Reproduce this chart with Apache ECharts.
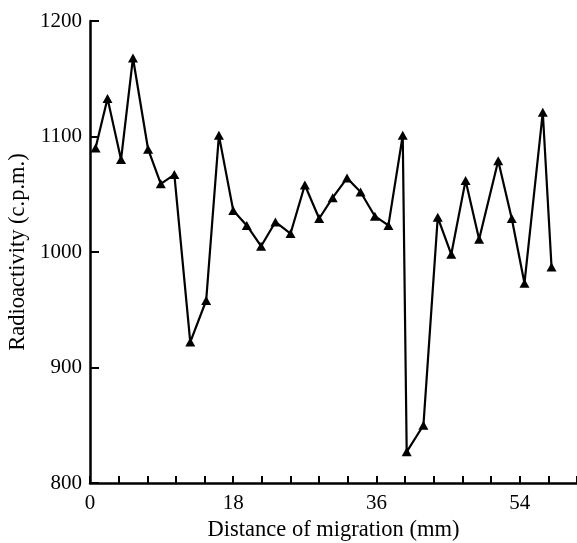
<!DOCTYPE html>
<html>
<head>
<meta charset="utf-8">
<script src="https://cdn.jsdelivr.net/npm/echarts@6/dist/echarts.min.js"></script>
<style>
  html, body { margin: 0; padding: 0; background: #fff; }
  #chart { width: 577px; height: 543px; }
</style>
</head>
<body>
<div id="chart"></div>
<script>
// Distance of migration (mm) for each fraction
const distance = [0.7, 2.2, 3.9, 5.4, 7.3, 8.9, 10.6, 12.6, 14.6, 16.2,
                  18.0, 19.7, 21.5, 23.3, 25.2, 27.0, 28.8, 30.5, 32.3, 34.0,
                  35.8, 37.5, 39.3, 39.8, 41.9, 43.7, 45.4, 47.2, 48.9, 51.3,
                  53.0, 54.6, 56.9, 58.0];
// Radioactivity (c.p.m.) for each fraction
const radioactivity = [1090, 1133, 1080, 1168, 1089, 1059, 1067, 922, 958, 1101,
                       1036, 1023, 1005, 1026, 1016, 1058, 1029, 1047, 1064, 1052,
                       1031, 1023, 1101, 827, 850, 1030, 998, 1062, 1011, 1079,
                       1029, 973, 1121, 987];
// Tick labels drawn on the distance axis
const xTickLabels = [0, 18, 36, 54];

const points = distance.map((d, i) => [d, radioactivity[i]]);
const FONT = '"Liberation Serif", "DejaVu Serif", serif';

const chart = echarts.init(document.getElementById('chart'), null, { renderer: 'canvas' });
chart.setOption({
  animation: false,
  backgroundColor: '#fff',
  grid: { left: 90, right: 0, top: 21, bottom: 60, outerBoundsMode: 'none', containLabel: false },
  xAxis: {
    type: 'value',
    min: 0,
    max: 61.2,
    interval: 3.6,
    name: 'Distance of migration (mm)',
    nameLocation: 'middle',
    nameGap: 32,
    nameTextStyle: { fontFamily: FONT, fontSize: 22.5, color: '#000' },
    axisLine: { show: true, onZero: false, lineStyle: { color: '#000', width: 2.5 } },
    axisTick: { show: true, inside: true, length: 7, lineStyle: { color: '#000', width: 2 } },
    axisLabel: {
      color: '#000', fontFamily: FONT, fontSize: 21, margin: 10,
      showMinLabel: true,
      formatter: v => xTickLabels.some(t => Math.abs(t - v) < 1e-6) ? String(Math.round(v)) : ''
    },
    splitLine: { show: false }
  },
  yAxis: {
    type: 'value',
    min: 800,
    max: 1200,
    interval: 100,
    name: 'Radioactivity (c.p.m.)',
    nameLocation: 'middle',
    nameGap: 53,
    nameRotate: 90,
    nameTextStyle: { fontFamily: FONT, fontSize: 22.5, color: '#000' },
    axisLine: { show: true, onZero: false, lineStyle: { color: '#000', width: 2.5 } },
    axisTick: { show: true, inside: true, length: 9, lineStyle: { color: '#000', width: 2 } },
    axisLabel: { color: '#000', fontFamily: FONT, fontSize: 21, margin: 8, formatter: v => String(v) },
    splitLine: { show: false }
  },
  series: [{
    type: 'line',
    data: points,
    symbol: 'triangle',
    symbolSize: [10, 9],
    showAllSymbol: true,
    itemStyle: { color: '#000' },
    lineStyle: { color: '#000', width: 2.2 }
  }]
});
</script>
</body>
</html>
